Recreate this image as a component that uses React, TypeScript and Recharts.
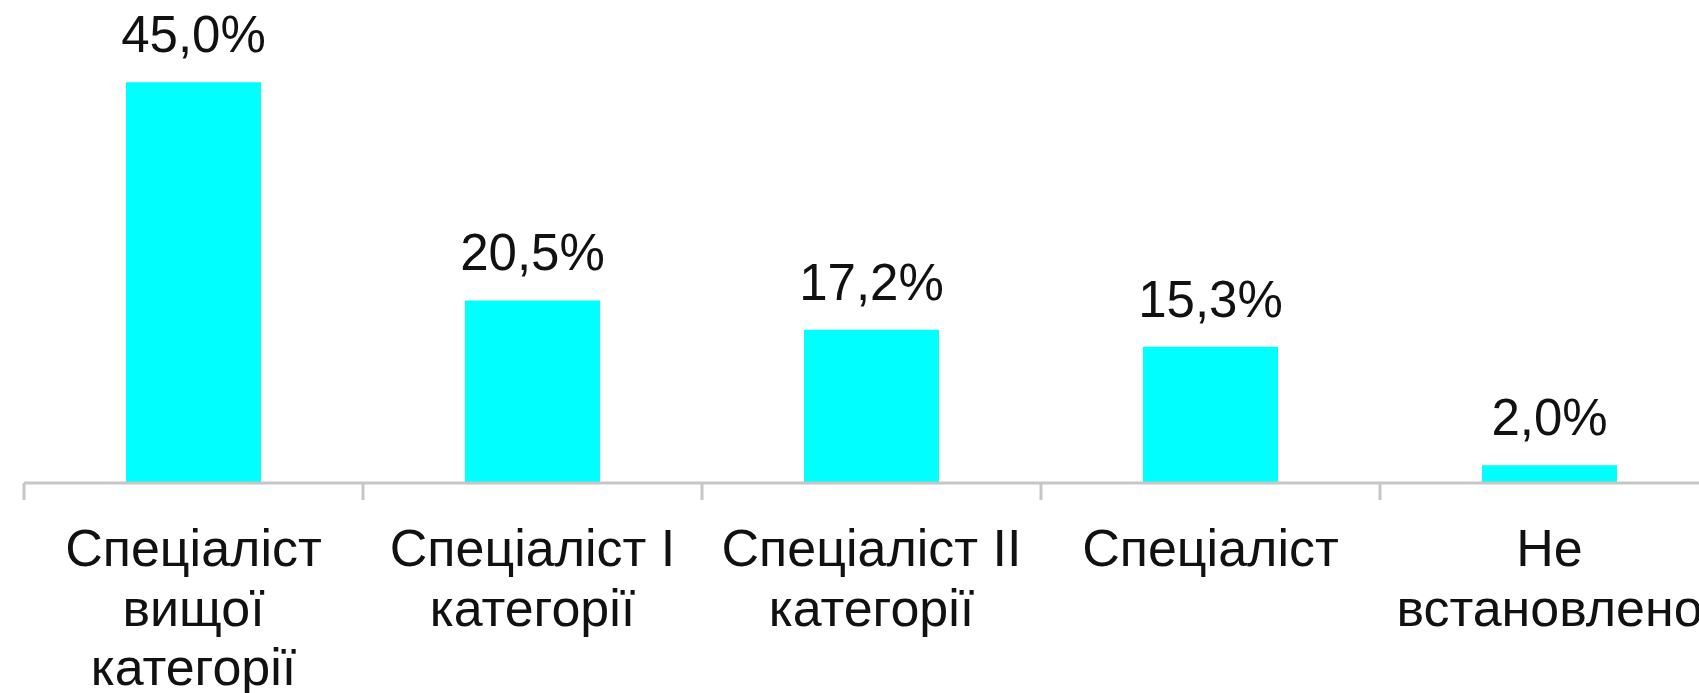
import { BarChart, Bar, XAxis, YAxis, LabelList } from "recharts";

const categories = [
  "Спеціаліст\nвищої\nкатегорії",
  "Спеціаліст I\nкатегорії",
  "Спеціаліст II\nкатегорії",
  "Спеціаліст",
  "Не\nвстановлено",
];
const shares = [45.0, 20.5, 17.2, 15.3, 2.0];

const chartData = categories.map((name, i) => ({ name, share: shares[i] }));

const FONT = "'Liberation Sans', Arial, sans-serif";
const AXIS_GREY = "#c6c6c6";

const formatPct = (v: number) => v.toFixed(1).replace(".", ",") + "%";

// category tick: boundary tick mark on the left of each band + multi-line label
const CategoryTick = (props: any) => {
  const { x, y, payload, index, visibleTicksCount } = props;
  const half = payload?.offset ?? 0;
  const lines = String(payload.value).split("\n");
  const isLast = index === visibleTicksCount - 1;
  return (
    <g>
      <line x1={x - half} x2={x - half} y1={y} y2={y + 17} stroke={AXIS_GREY} strokeWidth={3} />
      {isLast && (
        <line x1={x + half} x2={x + half} y1={y} y2={y + 17} stroke={AXIS_GREY} strokeWidth={3} />
      )}
      <text x={x} y={y} textAnchor="middle" fontSize={52} fontFamily={FONT} fill="#111">
        {lines.map((line, i) => (
          <tspan key={i} x={x} y={y + 83 + i * 59.5}>
            {line}
          </tspan>
        ))}
      </text>
    </g>
  );
};

const App = () => {
  return (
    <div style={{ position: "absolute", left: 0, top: 0, width: 1699, height: 693, overflow: "hidden", background: "#fff" }}>
      <BarChart
        width={1720}
        height={693}
        data={chartData}
        margin={{ top: 2, right: 1, left: 24, bottom: 0 }}
      >
        <XAxis
          dataKey="name"
          height={210}
          interval={0}
          tickSize={0}
          tickMargin={0}
          tickLine={false}
          axisLine={{ stroke: AXIS_GREY, strokeWidth: 3 }}
          tick={<CategoryTick />}
        />
        <YAxis hide domain={[0, 54]} />
        <Bar dataKey="share" fill="#00ffff" barSize={135} isAnimationActive={false}>
          <LabelList
            dataKey="share"
            position="top"
            offset={30}
            formatter={(v: any) => formatPct(Number(v))}
            fontSize={51}
            fontFamily={FONT}
            fill="#111"
          />
        </Bar>
      </BarChart>
    </div>
  );
};

export default App;
